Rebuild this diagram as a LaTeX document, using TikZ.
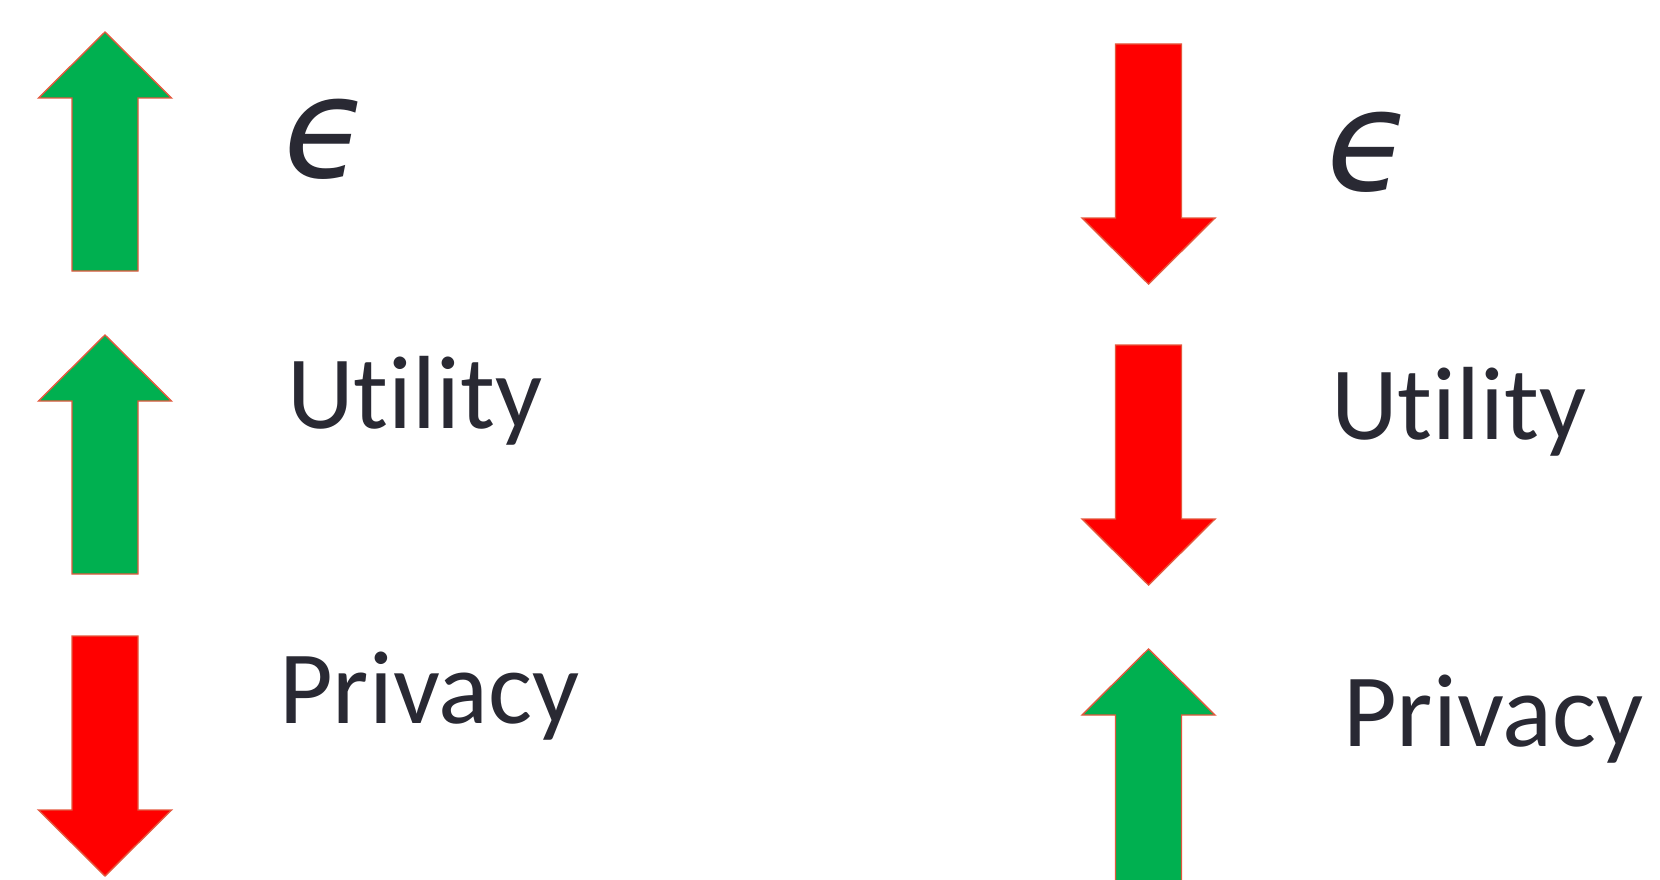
\documentclass[tikz,border=0pt]{standalone}
\usepackage{fontspec}
\setmainfont{Carlito}[Ligatures=NoCommon]
\newfontfamily\greekfont{DejaVu Sans}
\begin{document}
\begin{tikzpicture}[x=1pt,y=-1pt,
  arrline/.style={draw=arredge,line width=1.4pt,line join=miter},
  lbl/.style={anchor=base west,inner sep=0pt,text=txtcol,font=\fontsize{104}{120}\selectfont},
  eps/.style={anchor=center,inner sep=0pt,text=txtcol,font=\greekfont\itshape\fontsize{140}{160}\selectfont},
  pics/uparr/.style={code={
    \fill[#1,arrline] (0,0) -- (66.5,66) -- (33,66) -- (33,239) -- (-33,239)
      -- (-33,66) -- (-66.5,66) -- cycle;}},
  pics/downarr/.style={code={
    \fill[#1,arrline] (0,0) -- (66.5,-66) -- (33,-66) -- (33,-240) -- (-33,-240)
      -- (-33,-66) -- (-66.5,-66) -- cycle;}}]
\definecolor{arrgreen}{RGB}{0,176,80}
\definecolor{arrred}{RGB}{255,0,0}
\definecolor{arredge}{RGB}{228,88,62}
\definecolor{txtcol}{RGB}{41,41,51}
\clip (0,0) rectangle (1660,880);
\fill[white] (0,0) rectangle (1660,880);

% left column: epsilon up, utility up, privacy down
\pic (la) at (105,32) {uparr=arrgreen};
\pic (lb) at (105,335) {uparr=arrgreen};
\pic (lc) at (105,876) {downarr=arrred};
\node[eps] (leps) at (327,139) {ϵ};
\node[lbl] (lutil) at (287,428) {Utility};
\node[lbl] (lpriv) at (279,723) {Privacy};

% right column: epsilon down, utility down, privacy up
\pic (ra) at (1148.5,284) {downarr=arrred};
\pic (rb) at (1148.5,585) {downarr=arrred};
\pic (rc) at (1148.5,649) {uparr=arrgreen};
\node[eps] (reps) at (1370,152.5) {ϵ};
\node[lbl] (rutil) at (1331,439) {Utility};
\node[lbl] (rpriv) at (1343,746) {Privacy};
\end{tikzpicture}
\end{document}
